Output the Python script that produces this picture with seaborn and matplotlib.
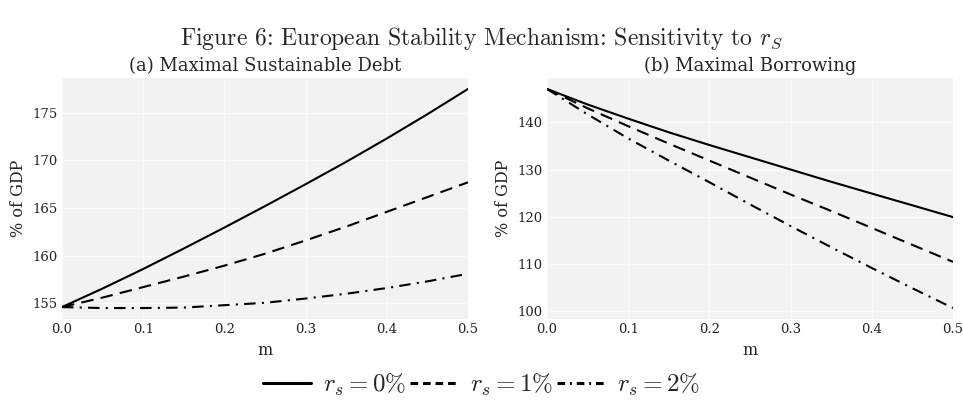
import numpy as np
import pandas as pd
import matplotlib
matplotlib.use("Agg")
import matplotlib.pyplot as plt
import seaborn as sns
from matplotlib.lines import Line2D

# ---- data ----
m = [0.0, 0.05, 0.1, 0.15, 0.2, 0.25, 0.3, 0.35, 0.4, 0.45, 0.5]
series_labels = [r"$r_s = 0\%$", r"$r_s = 1\%$", r"$r_s = 2\%$"]

debt_rs0 = [154.6, 156.55, 158.6, 160.75, 162.95, 165.2, 167.5, 169.85, 172.3, 174.85, 177.5]
debt_rs1 = [154.6, 155.6, 156.7, 157.8, 158.95, 160.2, 161.6, 163.05, 164.6, 166.15, 167.7]
debt_rs2 = [154.6, 154.5, 154.5, 154.55, 154.8, 155.05, 155.5, 156.0, 156.6, 157.3, 158.1]

borrow_rs0 = [147.1, 143.8, 140.8, 137.9, 135.2, 132.6, 130.0, 127.4, 124.9, 122.4, 119.9]
borrow_rs1 = [147.1, 143.0, 139.2, 135.5, 131.9, 128.3, 124.7, 121.2, 117.6, 114.0, 110.4]
borrow_rs2 = [147.1, 141.7, 136.6, 131.9, 127.3, 122.6, 118.0, 113.5, 109.1, 104.8, 100.6]

x_ticks = [0.0, 0.1, 0.2, 0.3, 0.4, 0.5]
x_tick_labels = ["0.0", "0.1", "0.2", "0.3", "0.4", "0.5"]
debt_ticks = [155, 160, 165, 170, 175]
borrow_ticks = [100, 110, 120, 130, 140]

panel_titles = ["(a) Maximal Sustainable Debt", "(b) Maximal Borrowing"]
fig_title = r"Figure 6: European Stability Mechanism: Sensitivity to $r_S$"

# ---- style ----
sns.set_theme(style="darkgrid", rc={
    "axes.facecolor": "#f2f2f2",
    "grid.color": "#fafafa",
    "grid.linewidth": 0.9,
    "axes.edgecolor": "#f2f2f2",
})
plt.rcParams["font.family"] = ["DejaVu Serif"]
plt.rcParams["mathtext.fontset"] = "cm"

def long_df(ys):
    rows = []
    for lab, y in zip(series_labels, ys):
        for xv, yv in zip(m, y):
            rows.append({"m": xv, "value": yv, "series": lab})
    return pd.DataFrame(rows)

dash_map = {
    series_labels[0]: "",
    series_labels[1]: (6, 3.5),
    series_labels[2]: (5.5, 3, 1, 3),
}

fig = plt.figure(figsize=(9.63, 4.09), dpi=100)
ax1 = fig.add_axes([62/963, 1 - 319/409, 406/963, 241/409])
ax2 = fig.add_axes([547/963, 1 - 319/409, 406/963, 241/409])

for ax, ys, ticks, title in [
    (ax1, [debt_rs0, debt_rs1, debt_rs2], debt_ticks, panel_titles[0]),
    (ax2, [borrow_rs0, borrow_rs1, borrow_rs2], borrow_ticks, panel_titles[1]),
]:
    df = long_df(ys)
    sns.lineplot(data=df, x="m", y="value", style="series", dashes=dash_map,
                 palette=["black"] * 3, hue="series", linewidth=1.5, ax=ax,
                 legend=False)
    ax.set_xlim(0, 0.5)
    ax.set_xticks(x_ticks)
    ax.set_xticklabels(x_tick_labels)
    ax.set_yticks(ticks)
    ax.tick_params(axis="both", length=0, labelsize=9.5, pad=3, colors="#222222")
    ax.set_xlabel("m", fontsize=11.5, labelpad=4)
    ax.set_ylabel("% of GDP", fontsize=11.5, labelpad=4)
    ax.set_title(title, fontsize=13, pad=5)
    for s in ax.spines.values():
        s.set_visible(False)

fig.suptitle(fig_title, x=0.5, y=0.94, fontsize=17, fontfamily="cmr10")

handles = [
    Line2D([], [], color="black", lw=2.2, linestyle="-"),
    Line2D([], [], color="black", lw=2.2, dashes=(2.5, 1.6)),
    Line2D([], [], color="black", lw=2.2, dashes=(2.5, 1.6, 0.6, 1.6)),
]
fig.legend(handles, series_labels, loc="center", bbox_to_anchor=(0.5, 1 - 385/409),
           ncol=3, frameon=False, fontsize=18, handlelength=1.9,
           handletextpad=0.5, columnspacing=0.15)

fig.savefig("out.png", dpi=100)
